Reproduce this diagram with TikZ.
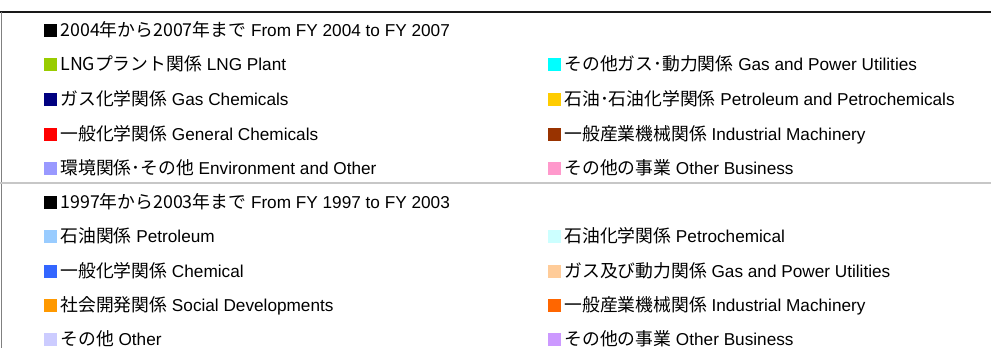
\documentclass[tikz,border=0pt]{standalone}
\usepackage{fontspec}
\setmainfont{Liberation Sans}
\newfontfamily\jpfont{Noto Sans CJK JP}
\usetikzlibrary{positioning}

\definecolor{lngGreen}{HTML}{99CC00}
\definecolor{gasNavy}{HTML}{000080}
\definecolor{chemRed}{HTML}{FF0000}
\definecolor{envLilac}{HTML}{9999FF}
\definecolor{utilCyan}{HTML}{00FFFF}
\definecolor{petroGold}{HTML}{FFCC00}
\definecolor{machBrown}{HTML}{993300}
\definecolor{otherPink}{HTML}{FF99CC}
\definecolor{oilSky}{HTML}{99CCFF}
\definecolor{chemBlue}{HTML}{3366FF}
\definecolor{socOrange}{HTML}{FF9900}
\definecolor{otherPale}{HTML}{CCCCFF}
\definecolor{pchemIce}{HTML}{CCFFFF}
\definecolor{gasPeach}{HTML}{FFCC99}
\definecolor{machOrange}{HTML}{FF6600}
\definecolor{otherViolet}{HTML}{CC99FF}

\begin{document}
\begin{tikzpicture}
  [
    x=1pt, y=-1pt,
    swatch/.style={fill=#1, draw=none, minimum size=13pt, inner sep=0pt},
    entry/.style={inner sep=0pt, text height=12.5pt, text depth=0pt,
      font=\fontsize{17.2}{19}\selectfont},
  ]
\useasboundingbox (0,0) rectangle (991,348);

\newcommand\jp[1]{{\jpfont\fontsize{17.8}{19}\selectfont #1}}

\def\colA{50.5}
\def\colB{554.5}
\def\gap{3}

\newcommand\legendItem[5]{
  \node[swatch=#4] (#1) at (#2,#3) {};
  \node[entry, right=\gap pt of #1] (#1-text) {#5};
}

% frame
\draw[line width=2.5pt, black!90] (0,12) -- (991,12);
\draw[line width=1pt, gray] (1,12) -- (1,348);
\draw[line width=2pt, black!22] (0,183) -- (991,183);

% FY 2004 - FY 2007
\legendItem{newHead}{\colA}{30}{black}{\jp{2004年から2007年まで} From FY 2004 to FY 2007}
\legendItem{lng}{\colA}{64.5}{lngGreen}{\jp{LNGプラント関係} LNG Plant}
\legendItem{gasUtil}{\colB}{64.5}{utilCyan}{\jp{その他ガス･動力関係} Gas and Power Utilities}
\legendItem{gasChem}{\colA}{99}{gasNavy}{\jp{ガス化学関係} Gas Chemicals}
\legendItem{petro}{\colB}{99}{petroGold}{\jp{石油･石油化学関係} Petroleum and Petrochemicals}
\legendItem{genChem}{\colA}{134}{chemRed}{\jp{一般化学関係} General Chemicals}
\legendItem{mach}{\colB}{134}{machBrown}{\jp{一般産業機械関係} Industrial Machinery}
\legendItem{env}{\colA}{168}{envLilac}{\jp{環境関係･その他} Environment and Other}
\legendItem{otherBiz}{\colB}{168}{otherPink}{\jp{その他の事業} Other Business}

% FY 1997 - FY 2003
\legendItem{oldHead}{\colA}{202}{black}{\jp{1997年から2003年まで} From FY 1997 to FY 2003}
\legendItem{oil}{\colA}{236.5}{oilSky}{\jp{石油関係} Petroleum}
\legendItem{pchem}{\colB}{236.5}{pchemIce}{\jp{石油化学関係} Petrochemical}
\legendItem{chem}{\colA}{271}{chemBlue}{\jp{一般化学関係} Chemical}
\legendItem{gasPow}{\colB}{271}{gasPeach}{\jp{ガス及び動力関係} Gas and Power Utilities}
\legendItem{social}{\colA}{305}{socOrange}{\jp{社会開発関係} Social Developments}
\legendItem{oldMach}{\colB}{305}{machOrange}{\jp{一般産業機械関係} Industrial Machinery}
\legendItem{other}{\colA}{339}{otherPale}{\jp{その他} Other}
\legendItem{oldOtherBiz}{\colB}{339}{otherViolet}{\jp{その他の事業} Other Business}

\end{tikzpicture}
\end{document}
